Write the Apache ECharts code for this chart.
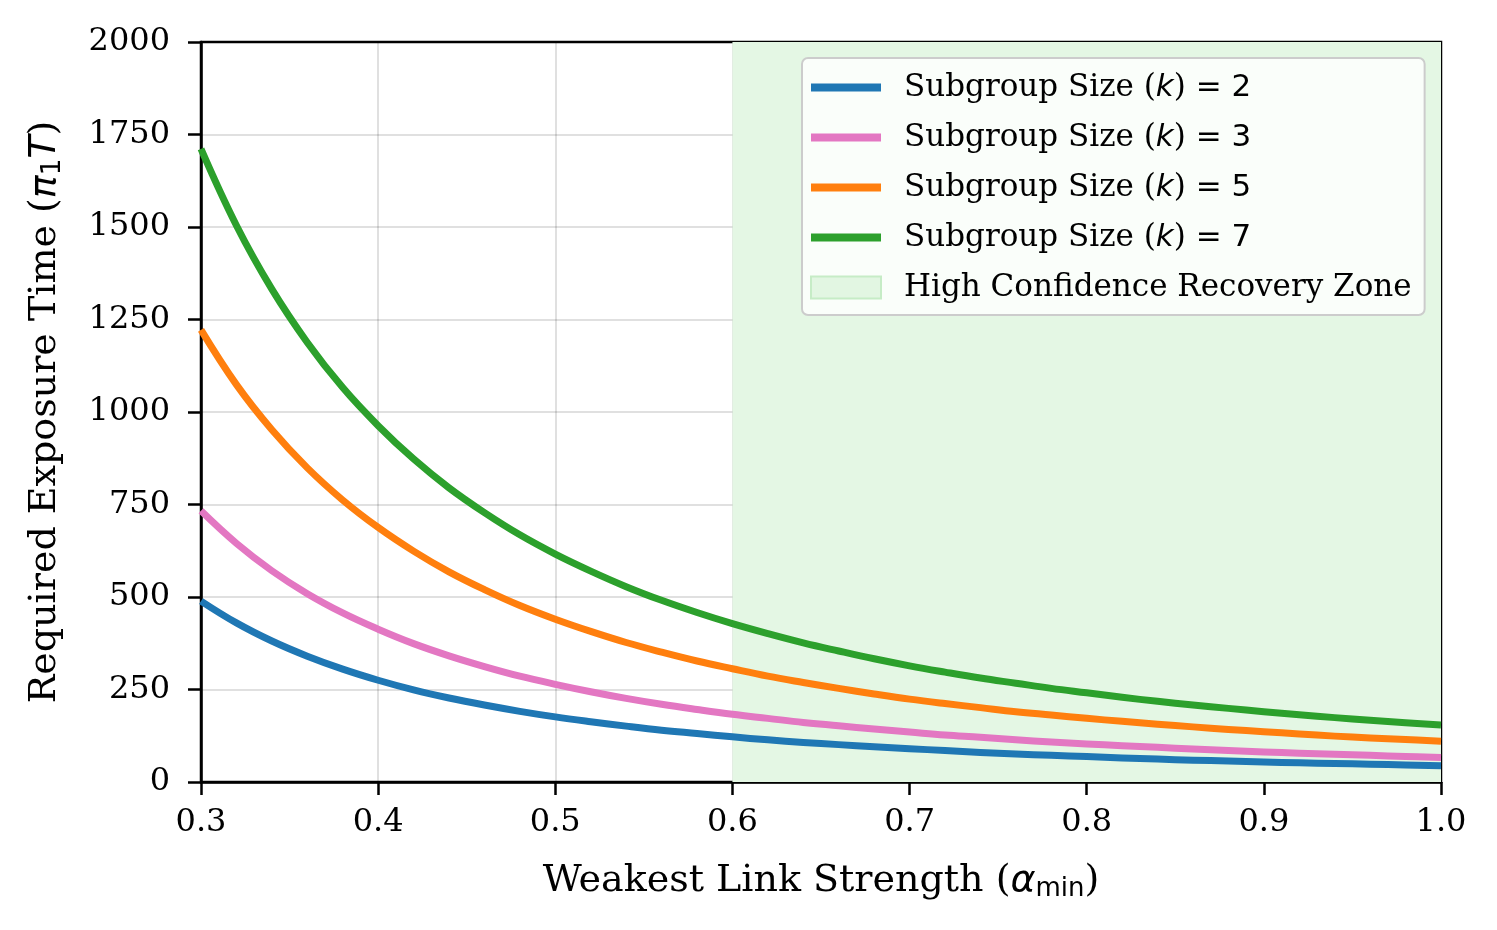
<!DOCTYPE html>
<html>
<head>
<meta charset="utf-8">
<script src="https://cdn.jsdelivr.net/npm/echarts@6/dist/echarts.min.js"></script>
<style>
  html, body { margin: 0; padding: 0; background: #fff; }
  #chart { width: 1497px; height: 930px; }
</style>
</head>
<body>
<div id="chart"></div>
<script>
// weakest link strength (x)
var alphaMin = [0.30, 0.32, 0.34, 0.36, 0.38, 0.40, 0.42, 0.44, 0.46, 0.48, 0.50, 0.52,
  0.54, 0.56, 0.58, 0.60, 0.62, 0.64, 0.66, 0.68, 0.70, 0.72, 0.74, 0.76,
  0.78, 0.80, 0.82, 0.84, 0.86, 0.88, 0.90, 0.92, 0.94, 0.96, 0.98, 1.00];
// required exposure time, one list per subgroup size
var k2 = [489, 430, 381, 340, 305, 275, 249, 227, 208, 191, 176, 163,
  151, 140, 131, 122, 114, 107, 101, 95, 90, 85, 80, 76,
  72, 69, 65, 62, 59, 57, 54, 52, 50, 48, 46, 44];
var k3 = [733, 645, 571, 509, 457, 413, 374, 341, 312, 286, 264, 244,
  226, 210, 196, 183, 172, 161, 152, 143, 135, 127, 121, 114,
  108, 103, 98, 94, 89, 85, 81, 78, 75, 72, 69, 66];
var k5 = [1222, 1074, 952, 849, 762, 688, 624, 568, 520, 477, 440, 407,
  377, 351, 327, 306, 286, 269, 253, 238, 224, 212, 201, 190,
  181, 172, 164, 156, 149, 142, 136, 130, 124, 119, 115, 110];
var k7 = [1711, 1504, 1332, 1188, 1066, 963, 873, 795, 728, 668, 616, 570,
  528, 491, 458, 428, 401, 376, 354, 333, 314, 297, 281, 267,
  253, 241, 229, 218, 208, 199, 190, 182, 174, 167, 160, 154];
var kNames = ["2", "3", "5", "7"];
var zoneRange = [0.6, 1.0];
var zoneName = "High Confidence Recovery Zone";

var serif = "DejaVu Serif";
var sans = "DejaVu Sans";
var colors = ["#1f77b4", "#e377c2", "#ff7f0e", "#2ca02c"];
// thick line swatch for the legend (extra moves keep the 70x22 box)
var lineIcon = "path://M0,0 M70,22 M0,7 L70,7 L70,15 L0,15 Z";

function pairs(ys) {
  return ys.map(function (y, i) { return [alphaMin[i], y]; });
}
function legendLabel(k) {
  return "Subgroup Size (k) = " + k;
}

var myChart = echarts.init(document.getElementById("chart"));

var lineSeries = [k2, k3, k5, k7].map(function (ys, i) {
  return {
    name: legendLabel(kNames[i]),
    type: "line",
    data: pairs(ys),
    smooth: 0.4,
    symbol: "none",
    z: 3,
    lineStyle: { width: 7, color: colors[i], join: "round" },
    itemStyle: { color: colors[i] },
  };
});

var option = {
  backgroundColor: "#fff",
  animation: false,
  grid: {
    left: 201,
    right: 56,
    top: 42,
    bottom: 148,
    show: true,
    borderColor: "#000",
    borderWidth: 2.5,
    backgroundColor: "transparent",
  },
  legend: {
    orient: "vertical",
    left: 802,
    top: 58,
    padding: [14, 13, 12, 8],
    itemWidth: 70,
    itemHeight: 22,
    itemGap: 19,
    backgroundColor: "rgba(255,255,255,0.8)",
    borderColor: "#cccccc",
    borderWidth: 2,
    borderRadius: 6,
    data: kNames.map(function (k, i) {
      return { name: legendLabel(k), icon: lineIcon, itemStyle: { color: colors[i] } };
    }).concat([
      {
        name: zoneName,
        icon: "rect",
        itemStyle: { color: "#e2f6e2", borderColor: "#c6ecc6", borderWidth: 2 },
      },
    ]),
    formatter: function (name) {
      if (name === zoneName) return "{t|" + name + "}";
      var k = name.split("= ")[1];
      return "{t|Subgroup Size (}{i|k}{t|)}{m| = " + k + "}";
    },
    textStyle: {
      color: "#000",
      fontFamily: serif,
      fontSize: 31,
      lineHeight: 30,
      padding: [0, 0, 0, 18],
      rich: {
        t: { fontFamily: serif, fontSize: 31, color: "#000" },
        i: { fontFamily: sans, fontStyle: "italic", fontSize: 31, color: "#000" },
        m: { fontFamily: sans, fontSize: 31, color: "#000" },
      },
    },
  },
  xAxis: {
    type: "value",
    min: 0.3,
    max: 1.0,
    interval: 0.1,
    name: "{t|Weakest Link Strength (}{a|α}{s|min}{t|)}",
    nameLocation: "middle",
    nameGap: 79,
    nameTextStyle: {
      color: "#000",
      rich: {
        t: { fontFamily: serif, fontSize: 38, color: "#000" },
        a: { fontFamily: sans, fontStyle: "italic", fontSize: 38, color: "#000" },
        s: { fontFamily: sans, fontSize: 26, color: "#000", padding: [15, 0, 0, 0] },
      },
    },
    axisLine: { show: true, lineStyle: { color: "#000", width: 2.5 } },
    axisTick: { show: true, length: 13, lineStyle: { color: "#000", width: 2.5 } },
    axisLabel: {
      color: "#000",
      fontFamily: serif,
      fontSize: 32,
      margin: 25,
      formatter: function (v) { return v.toFixed(1); },
    },
    splitLine: { show: true, lineStyle: { color: "rgba(0,0,0,0.12)", width: 2 } },
  },
  yAxis: {
    type: "value",
    min: 0,
    max: 2000,
    interval: 250,
    name: "{t|Required Exposure Time (}{a|π}{s|1}{a|T}{t|)}",
    nameLocation: "middle",
    nameGap: 135,
    nameTextStyle: {
      color: "#000",
      rich: {
        t: { fontFamily: serif, fontSize: 38, color: "#000" },
        a: { fontFamily: sans, fontStyle: "italic", fontSize: 38, color: "#000" },
        s: { fontFamily: sans, fontSize: 26, color: "#000", padding: [15, 0, 0, 0] },
      },
    },
    axisLine: { show: true, lineStyle: { color: "#000", width: 2.5 } },
    axisTick: { show: true, length: 13, lineStyle: { color: "#000", width: 2.5 } },
    axisLabel: {
      color: "#000",
      fontFamily: serif,
      fontSize: 32,
      margin: 31,
      formatter: function (v) { return String(v); },
    },
    splitLine: { show: true, lineStyle: { color: "rgba(0,0,0,0.12)", width: 2 } },
  },
  series: [
    {
      name: zoneName,
      type: "line",
      data: [],
      z: -1,
      itemStyle: { color: "#e2f6e2" },
      markArea: {
        silent: true,
        itemStyle: { color: "#e4f7e4" },
        data: [[{ xAxis: zoneRange[0] }, { xAxis: zoneRange[1] }]],
      },
    },
  ].concat(lineSeries),
};

myChart.setOption(option);
window.addEventListener("resize", function () {
  myChart.resize();
});
</script>
</body>
</html>
